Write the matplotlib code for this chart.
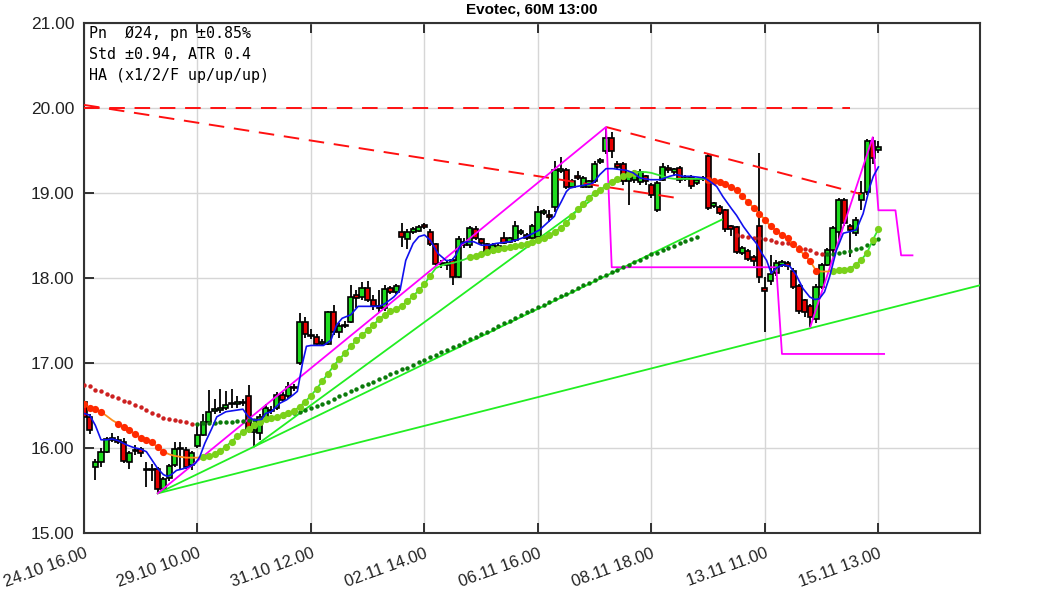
import matplotlib
matplotlib.use('Agg')
import matplotlib.pyplot as plt
import numpy as np

plt.rcParams['font.family'] = ['Liberation Sans', 'DejaVu Sans']

# Kerzen, Stundenbars (Index 0 = 24.10 16.00)
opens = [16.55, 16.37, 15.78, 15.84, 15.96, 16.10, 16.10, 16.08, 15.84, 15.97,
         15.99, 15.75, 15.74, 15.76, 15.52, 15.65, 15.80, 15.99, 15.98, 15.80,
         16.03, 16.16, 16.31, 16.44, 16.45, 16.47, 16.52, 16.52, 16.55, 16.62,
         16.19, 16.18, 16.37, 16.45, 16.47, 16.63, 16.61, 16.72, 17.00, 17.49,
         17.32, 17.31, 17.23, 17.23, 17.60, 17.37, 17.44, 17.49, 17.80, 17.78,
         17.89, 17.75, 17.67, 17.65, 17.89, 17.84, 18.54, 18.46, 18.55, 18.56,
         18.63, 18.54, 18.40, 18.18, 18.17, 18.22, 18.02, 18.39, 18.39, 18.58,
         18.46, 18.40, 18.31, 18.37, 18.47, 18.43, 18.45, 18.53, 18.51, 18.48,
         18.49, 18.77, 18.74, 18.84, 19.26, 19.27, 19.08, 19.20, 19.08, 19.08,
         19.14, 19.37, 19.50, 19.65, 19.35, 19.35, 19.14, 19.16, 19.13, 19.20,
         19.10, 18.80, 19.16, 19.30, 19.25, 19.30, 19.17, 19.19, 19.12, 19.18,
         19.44, 18.85, 18.84, 18.80, 18.61, 18.60, 18.30, 18.32, 18.25, 18.61,
         17.88, 17.97, 18.06, 18.16, 18.18, 18.09, 17.91, 17.74, 17.68, 17.52,
         17.90, 18.16, 18.33, 18.55, 18.92, 18.61, 18.53, 18.92, 19.01, 19.61,
         19.51]
closes = [16.37, 16.22, 15.84, 15.96, 16.11, 16.12, 16.08, 15.85, 15.95, 15.98,
          15.95, 15.74, 15.75, 15.52, 15.64, 15.79, 15.99, 16.00, 15.78, 15.94,
          16.16, 16.31, 16.43, 16.46, 16.47, 16.51, 16.53, 16.55, 16.53, 16.21,
          16.22, 16.37, 16.47, 16.44, 16.63, 16.57, 16.72, 16.71, 17.49, 17.35,
          17.33, 17.23, 17.24, 17.60, 17.37, 17.44, 17.45, 17.78, 17.77, 17.89,
          17.75, 17.67, 17.65, 17.88, 17.84, 17.91, 18.49, 18.54, 18.58, 18.60,
          18.60, 18.40, 18.17, 18.17, 18.16, 18.02, 18.46, 18.43, 18.59, 18.47,
          18.42, 18.31, 18.39, 18.38, 18.42, 18.47, 18.61, 18.56, 18.47, 18.61,
          18.78, 18.79, 18.72, 19.27, 19.28, 19.08, 19.14, 19.18, 19.18, 19.14,
          19.35, 19.39, 19.65, 19.50, 19.31, 19.14, 19.24, 19.24, 19.25, 19.14,
          18.98, 19.12, 19.31, 19.27, 19.28, 19.16, 19.18, 19.09, 19.16, 19.17,
          18.83, 18.88, 18.77, 18.58, 18.58, 18.31, 18.36, 18.23, 18.20, 18.01,
          17.85, 18.05, 18.18, 18.19, 18.14, 17.90, 17.61, 17.60, 17.55, 17.90,
          18.16, 18.33, 18.59, 18.92, 18.65, 18.57, 18.69, 19.00, 19.61, 19.42,
          19.54]
highs = [16.60, 16.40, 15.88, 16.00, 16.13, 16.18, 16.15, 16.12, 15.97, 16.04,
         16.02, 15.84, 15.82, 15.78, 15.66, 15.82, 16.08, 16.08, 16.02, 15.97,
         16.30, 16.40, 16.69, 16.58, 16.70, 16.68, 16.70, 16.62, 16.58, 16.74,
         16.26, 16.40, 16.52, 16.50, 16.66, 16.66, 16.78, 16.76, 17.59, 17.55,
         17.40, 17.35, 17.28, 17.62, 17.69, 17.48, 17.50, 17.92, 17.86, 17.96,
         17.97, 17.80, 17.86, 17.92, 17.91, 17.93, 18.65, 18.58, 18.60, 18.63,
         18.65, 18.58, 18.42, 18.22, 18.20, 18.24, 18.50, 18.47, 18.62, 18.62,
         18.48, 18.42, 18.41, 18.41, 18.55, 18.49, 18.67, 18.58, 18.53, 18.64,
         18.85, 18.82, 18.80, 19.38, 19.43, 19.30, 19.17, 19.26, 19.20, 19.16,
         19.38, 19.41, 19.78, 19.72, 19.38, 19.37, 19.26, 19.27, 19.28, 19.22,
         19.12, 19.14, 19.36, 19.33, 19.30, 19.32, 19.22, 19.21, 19.18, 19.20,
         19.47, 18.90, 18.86, 18.82, 18.63, 18.62, 18.38, 18.34, 18.27, 19.47,
         18.01, 18.27, 18.22, 18.22, 18.20, 18.12, 17.93, 17.76, 17.70, 17.93,
         18.18, 18.36, 18.62, 18.95, 18.94, 18.64, 18.72, 19.15, 19.64, 19.66,
         19.62]
lows = [16.33, 16.17, 15.63, 15.78, 15.94, 16.07, 16.05, 15.83, 15.76, 15.92,
        15.90, 15.55, 15.62, 15.47, 15.49, 15.62, 15.78, 15.75, 15.76, 15.75,
        16.00, 16.14, 16.28, 16.40, 16.42, 16.45, 16.48, 16.48, 16.50, 16.18,
        16.01, 16.10, 16.33, 16.40, 16.45, 16.55, 16.58, 16.68, 16.98, 17.30,
        17.28, 17.20, 17.20, 17.21, 17.33, 17.30, 17.42, 17.47, 17.65, 17.75,
        17.72, 17.63, 17.60, 17.62, 17.82, 17.82, 18.37, 18.35, 18.52, 18.54,
        18.58, 18.38, 18.14, 18.12, 18.10, 17.92, 18.00, 18.36, 18.36, 18.45,
        18.39, 18.27, 18.29, 18.35, 18.40, 18.41, 18.43, 18.51, 18.45, 18.46,
        18.47, 18.75, 18.66, 18.78, 19.24, 19.05, 19.06, 19.16, 19.06, 19.06,
        19.12, 19.35, 19.46, 19.42, 19.28, 19.10, 18.86, 19.12, 19.10, 19.10,
        18.95, 18.78, 19.14, 19.24, 19.20, 19.12, 19.15, 19.05, 19.10, 19.15,
        18.80, 18.83, 18.75, 18.55, 18.50, 18.28, 18.27, 18.20, 18.15, 17.95,
        17.37, 17.92, 18.03, 18.13, 18.10, 17.87, 17.58, 17.55, 17.43, 17.48,
        17.88, 18.14, 18.30, 18.45, 18.62, 18.25, 18.50, 18.80, 18.98, 19.35,
        19.48]

tick_labels = ['24.10 16.00', '29.10 10.00', '31.10 12.00', '02.11 14.00',
               '06.11 16.00', '08.11 18.00', '13.11 11.00', '15.11 13.00']

# schneller Durchschnitt (Linie + dicke Punkte)
ma_fast = [16.52, 16.47, 16.46, 16.43, 16.38, 16.33, 16.29, 16.25, 16.21, 16.17,
           16.12, 16.10, 16.07, 16.01, 15.96, 15.93, 15.91, 15.90, 15.89, 15.89,
           15.89, 15.90, 15.91, 15.93, 15.97, 16.02, 16.08, 16.14, 16.19, 16.23,
           16.27, 16.31, 16.34, 16.36, 16.37, 16.39, 16.41, 16.44, 16.49, 16.55,
           16.62, 16.70, 16.79, 16.88, 16.97, 17.05, 17.12, 17.20, 17.27, 17.33,
           17.39, 17.45, 17.52, 17.57, 17.61, 17.64, 17.68, 17.73, 17.79, 17.86,
           17.93, 18.03, 18.12, 18.15, 18.17, 18.18, 18.20, 18.22, 18.25, 18.26,
           18.28, 18.31, 18.33, 18.35, 18.36, 18.37, 18.38, 18.39, 18.40, 18.43,
           18.45, 18.48, 18.51, 18.55, 18.59, 18.65, 18.73, 18.81, 18.88, 18.95,
           19.00, 19.04, 19.09, 19.13, 19.17, 19.20, 19.23, 19.24, 19.25, 19.25,
           19.24, 19.22, 19.20, 19.18, 19.17, 19.17, 19.17, 19.17, 19.17, 19.17,
           19.16, 19.15, 19.13, 19.11, 19.08, 19.04, 18.97, 18.90, 18.83, 18.76,
           18.69, 18.61, 18.56, 18.51, 18.47, 18.40, 18.34, 18.27, 18.20, 18.09,
           18.08, 18.08, 18.09, 18.10, 18.10, 18.11, 18.16, 18.22, 18.30, 18.45,
           18.58]
fast_down_bars = list(range(0, 4)) + list(range(6, 15)) + list(range(110, 130))
fast_up_bars = list(range(21, 62)) + list(range(68, 98)) + list(range(132, 141))

# langsamer Durchschnitt (kleine Punkte)
slow_dn1 = [16.75, 16.73, 16.69, 16.67, 16.64, 16.62, 16.59, 16.56, 16.54, 16.51,
            16.49, 16.45, 16.42, 16.39, 16.36, 16.34, 16.33, 16.32, 16.31, 16.29]
slow_up1 = [16.29, 16.30, 16.30, 16.30, 16.31, 16.31, 16.31, 16.32, 16.32, 16.33,
            16.33, 16.34, 16.35, 16.36, 16.37, 16.38, 16.40, 16.41, 16.43, 16.45,
            16.47, 16.50, 16.52, 16.55, 16.58, 16.61, 16.64, 16.67, 16.70, 16.73,
            16.76, 16.78, 16.81, 16.84, 16.87, 16.90, 16.93, 16.95, 16.98, 17.01,
            17.04, 17.07, 17.10, 17.13, 17.16, 17.19, 17.22, 17.25, 17.28, 17.31,
            17.34, 17.37, 17.40, 17.44, 17.47, 17.50, 17.53, 17.57, 17.60, 17.63,
            17.66, 17.69, 17.72, 17.76, 17.79, 17.82, 17.85, 17.89, 17.92, 17.95,
            17.98, 18.01, 18.04, 18.07, 18.10, 18.13, 18.16, 18.19, 18.22, 18.25,
            18.28, 18.30, 18.33, 18.36, 18.38, 18.41, 18.44, 18.46, 18.49]
slow_dn2 = [18.51, 18.50, 18.49, 18.48, 18.47, 18.46, 18.45, 18.43, 18.42, 18.41,
            18.39, 18.37, 18.35, 18.33, 18.30, 18.28]
slow_up2 = [18.28, 18.29, 18.30, 18.31, 18.32, 18.34, 18.36, 18.39, 18.42, 18.46]
slow_starts = [0, 20, 115, 131]

blue_x = [0, 1, 2, 3, 4, 5, 6, 7.5, 8.7, 10, 11, 12, 13, 14, 14.7, 15.4, 16.3, 17.5,
          18.7, 19.6, 20.4, 21.3, 22.5, 23.4, 25, 27, 28, 29, 30, 31.3, 32, 33, 34.5,
          35.7, 36.9, 37.6, 38.5, 39.2, 40, 42.2, 43.5, 44.5, 45.5, 47, 48.3, 50.6, 52,
          53, 54.6, 55.7, 56.7, 58, 59, 60, 61, 62.4, 63.8, 64.8, 65.5, 66.5, 67.5,
          68.7, 70, 71.3, 72.6, 74.9, 76.2, 77.9, 79.2, 80.3, 81.6, 82.9, 83.3, 84.1,
          85, 85.6, 86.8, 88.5, 89.7, 90.9, 92, 93.2, 94.4, 95.6, 96.8, 98, 99.8,
          101.5, 103.2, 104.4, 105.6, 106.8, 108.2, 109.4, 110.3, 111.5, 112.6, 114.1,
          115, 116.2, 117.3, 118.5, 119.4, 120.3, 121.1, 122, 123.2, 124.4, 125.5,
          126.7, 127.9, 128.8, 129.6, 130.5, 131.4, 132.6, 133.8, 135, 136.1, 137.3,
          138.5, 139.1, 140]
blue_y = [16.41, 16.39, 16.27, 16.10, 16.10, 16.11, 16.09, 16.04, 16.01, 15.99, 15.96,
          15.86, 15.76, 15.69, 15.67, 15.69, 15.74, 15.76, 15.79, 15.82, 15.90, 16.06,
          16.23, 16.37, 16.43, 16.45, 16.46, 16.37, 16.33, 16.34, 16.41, 16.43, 16.53,
          16.57, 16.63, 16.67, 17.00, 17.20, 17.21, 17.21, 17.27, 17.45, 17.53, 17.57,
          17.67, 17.67, 17.67, 17.70, 17.78, 17.86, 18.21, 18.41, 18.49, 18.51, 18.45,
          18.29, 18.21, 18.21, 18.27, 18.41, 18.43, 18.43, 18.39, 18.39, 18.41, 18.43,
          18.45, 18.49, 18.53, 18.57, 18.65, 18.73, 18.80, 18.90, 19.02, 19.06, 19.08,
          19.10, 19.12, 19.22, 19.29, 19.29, 19.28, 19.27, 19.24, 19.18, 19.16, 19.16,
          19.20, 19.22, 19.20, 19.20, 19.19, 19.18, 19.14, 19.08, 18.96, 18.82, 18.74,
          18.61, 18.51, 18.41, 18.30, 18.21, 18.06, 18.12, 18.16, 18.14, 18.04, 17.88,
          17.78, 17.75, 17.76, 17.84, 18.02, 18.33, 18.53, 18.55, 18.57, 18.76, 19.08,
          19.20, 19.31]

# Trendlinien
green_lines = [([13, 158], [15.47, 17.92]),
               ([13, 112.4], [15.47, 18.69]),
               ([30, 89], [16.02, 18.90])]
magenta_lines = [([13, 92, 93, 122, 123, 141], [15.47, 19.78, 18.13, 18.13, 17.11, 17.11]),
                 ([128, 139, 140, 143, 144, 146], [17.43, 19.66, 18.80, 18.80, 18.27, 18.27])]
red_dashed = [([0, 135], [20.00, 20.00]),
              ([0, 104], [20.04, 18.95]),
              ([92, 137], [19.78, 18.99])]

fig = plt.figure(figsize=(10.63, 5.91), dpi=100)
ax = fig.add_axes([84 / 1063, 1 - 533.3 / 591, 896 / 1063, 510 / 591])

bars = np.arange(len(opens))
o = np.array(opens); c = np.array(closes)
up = c >= o
bottom = np.minimum(o, c)
height = np.maximum(np.abs(c - o), 0.015)
ax.vlines(bars, lows, highs, color='black', lw=1.3, zorder=2)
ax.bar(bars[up], height[up], 0.9, bottom[up], color='#1edc1e', edgecolor='black', lw=1.2, zorder=3)
ax.bar(bars[~up], height[~up], 0.9, bottom[~up], color='#e60000', edgecolor='black', lw=1.2, zorder=3)

for xs, ys in red_dashed:
    ax.plot(xs, ys, color='#ff1010', lw=1.4, ls=(0, (8, 5)), zorder=4)
for xs, ys in green_lines:
    ax.plot(xs, ys, color='#22ee22', lw=1.3, zorder=4)
for xs, ys in magenta_lines:
    ax.plot(xs, ys, color='#ff00ff', lw=1.3, zorder=4)

# langsamer Durchschnitt
slow_sets = [(slow_dn1, '#cc2020'), (slow_up1, '#0a7a0a'), (slow_dn2, '#cc2020'), (slow_up2, '#0a7a0a')]
for start, (vals, col) in zip(slow_starts, slow_sets):
    ax.plot(np.arange(start, start + len(vals)), vals, ls='none', marker='o', ms=3.2,
            color=col, mec='none', zorder=5)

# schneller Durchschnitt
ma = np.array(ma_fast)
ax.plot(bars[:22], ma[:22], color='#ff8c1a', lw=1.3, zorder=5)
ax.plot(bars[21:111], ma[21:111], color='#33e833', lw=1.3, zorder=5)
ax.plot(bars[110:133], ma[110:133], color='#ff8c1a', lw=1.3, zorder=5)
ax.plot(bars[132:], ma[132:], color='#33e833', lw=1.3, zorder=5)
ax.plot(bars[fast_down_bars], ma[fast_down_bars], ls='none', marker='o', ms=5.2,
        color='#ff2a00', mec='none', zorder=6)
ax.plot(bars[fast_up_bars], ma[fast_up_bars], ls='none', marker='o', ms=5.2,
        color='#7ad11a', mec='none', zorder=6)

ax.plot(blue_x, blue_y, color='#1010ee', lw=1.2, zorder=7)

ax.set_xlim(0, 157.9)
ax.set_ylim(15, 21)
ax.set_yticks(np.arange(15, 22))
ax.set_yticklabels(['%.2f' % v for v in range(15, 22)], fontsize=12.5)
ax.set_xticks(np.arange(0, 141, 20))
ax.set_xticklabels(tick_labels, fontsize=12, rotation=20, ha='right', rotation_mode='anchor')
ax.tick_params(axis='x', direction='in', length=7, width=1.3, top=True, pad=9, colors='#222222')
ax.tick_params(axis='y', direction='in', length=7, width=1.3, pad=7, colors='#222222')
ax.grid(True, color='#d6d6d6', lw=1.0)
ax.set_axisbelow(True)
for s in ax.spines.values():
    s.set_color('#333333')
    s.set_linewidth(1.5)

fig.text(532 / 1063, 1 - 10 / 591, 'Evotec, 60M 13:00', ha='center', va='center',
         fontsize=11, fontweight='bold')
info = ['Pn  \u00d824, pn \u00b10.85%', 'Std \u00b10.94, ATR 0.4', 'HA (x1/2/F up/up/up)']
for i, line in enumerate(info):
    fig.text(89 / 1063, 1 - (38 + 21 * i) / 591, line, family=['DejaVu Sans Mono'],
             fontsize=10.8, va='baseline', ha='left')

fig.savefig('out.png', dpi=100)
